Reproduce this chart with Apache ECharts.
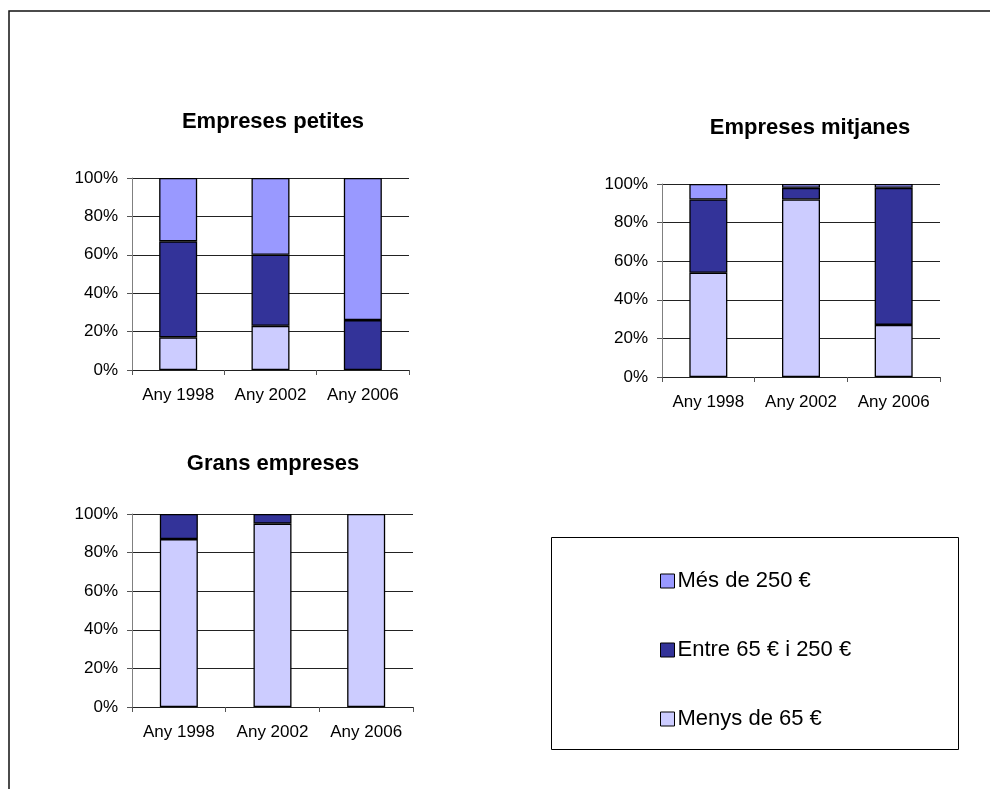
<!DOCTYPE html>
<html><head><meta charset="utf-8">
<script src="https://cdn.jsdelivr.net/npm/echarts@6/dist/echarts.min.js"></script>
<style>html,body{margin:0;padding:0;background:#fff}#c{width:990px;height:789px}</style>
</head><body><div id="c"></div>
<script>
// Categories, series names and titles
const categories = ['Any 1998', 'Any 2002', 'Any 2006'];
const nameMenys = 'Menys de 65 €';
const nameEntre = 'Entre 65 € i 250 €';
const nameMes = 'Més de 250 €';
const chartTitles = ['Empreses petites', 'Empreses mitjanes', 'Grans empreses'];
const yTicks = [0, 20, 40, 60, 80, 100];

// Share (%) of each spending band, per company size
const petitesMenys = [17, 23, 0];
const petitesEntre = [50, 37, 26];
const petitesMes = [33, 40, 74];

const mitjanesMenys = [54, 92, 27];
const mitjanesEntre = [38, 6, 71];
const mitjanesMes = [8, 2, 2];

const gransMenys = [87, 95, 100];
const gransEntre = [13, 5, 0];
const gransMes = [0, 0, 0];

const colMenys = '#CCCCFF', colEntre = '#333399', colMes = '#9999FF';
const FONT = 'Liberation Sans, Arial, sans-serif';

const panels = [
  { menys: petitesMenys, entre: petitesEntre, mes: petitesMes, grid: { left: 132, top: 178, width: 277, height: 192 }, title: { x: 268, y: 106 } },
  { menys: mitjanesMenys, entre: mitjanesEntre, mes: mitjanesMes, grid: { left: 662, top: 184, width: 278, height: 193 }, title: { x: 805, y: 112 } },
  { menys: gransMenys, entre: gransEntre, mes: gransMes, grid: { left: 132, top: 514, width: 281, height: 193 }, title: { x: 268, y: 448 } }
];

// zero-height segments are left out so they draw no outline
const clean = arr => arr.map(v => (v === 0 ? '-' : v));

const grids = [], xAxes = [], yAxes = [], series = [], titles = [];
panels.forEach((p, i) => {
  grids.push(Object.assign({ outerBoundsMode: 'none', containLabel: false }, p.grid));
  titles.push({
    text: chartTitles[i], left: p.title.x, top: p.title.y, textAlign: 'center',
    textStyle: { fontFamily: FONT, fontSize: 22, fontWeight: 'bold', color: '#000' }
  });
  xAxes.push({
    type: 'category', gridIndex: i, data: categories, boundaryGap: true,
    axisLine: { lineStyle: { color: '#222', width: 1 } },
    axisTick: { show: true, length: 5, inside: false, interval: 0, alignWithLabel: false, lineStyle: { color: '#555' } },
    axisLabel: { interval: 0, hideOverlap: false, fontFamily: FONT, fontSize: 17, color: '#000', margin: 17 },
    splitLine: { show: false }
  });
  yAxes.push({
    type: 'value', gridIndex: i, min: yTicks[0], max: yTicks[yTicks.length - 1], interval: yTicks[1] - yTicks[0],
    axisLine: { show: true, lineStyle: { color: '#808080', width: 1 } },
    axisTick: { show: true, length: 5, lineStyle: { color: '#555' } },
    axisLabel: { fontFamily: FONT, fontSize: 17, color: '#000', margin: 14, formatter: '{value}%' },
    splitLine: { show: true, lineStyle: { color: '#222', width: 1 } }
  });
  const common = { type: 'bar', xAxisIndex: i, yAxisIndex: i, stack: 'p' + i, barWidth: 38, animation: false };
  series.push(Object.assign({ name: nameMenys, data: clean(p.menys), itemStyle: { color: colMenys, borderColor: '#000', borderWidth: 1.3 } }, common));
  series.push(Object.assign({ name: nameEntre, data: clean(p.entre), itemStyle: { color: colEntre, borderColor: '#000', borderWidth: 1.3 } }, common));
  series.push(Object.assign({ name: nameMes, data: clean(p.mes), itemStyle: { color: colMes, borderColor: '#000', borderWidth: 1.3 } }, common));
});

const chart = echarts.init(document.getElementById('c'), null, { renderer: 'canvas' });
chart.setOption({
  backgroundColor: '#fff',
  animation: false,
  title: titles,
  grid: grids,
  xAxis: xAxes,
  yAxis: yAxes,
  series: series,
  legend: {
    orient: 'vertical', left: 655, top: 565,
    data: [nameMes, nameEntre, nameMenys],
    icon: 'rect', itemWidth: 14, itemHeight: 14, itemGap: 47,
    selectedMode: false,
    itemStyle: { borderColor: '#000', borderWidth: 1 },
    textStyle: { fontFamily: FONT, fontSize: 22, color: '#000', padding: [0, 0, 0, -2] }
  },
  graphic: [
    { type: 'polyline', shape: { points: [[9, 789], [9, 11], [990, 11]] }, style: { fill: null, stroke: '#111', lineWidth: 1.5 }, silent: true },
    { type: 'rect', shape: { x: 551.5, y: 537.5, width: 407, height: 212 }, style: { fill: null, stroke: '#000', lineWidth: 1 }, silent: true, z: -1 }
  ]
});
</script>
</body></html>
